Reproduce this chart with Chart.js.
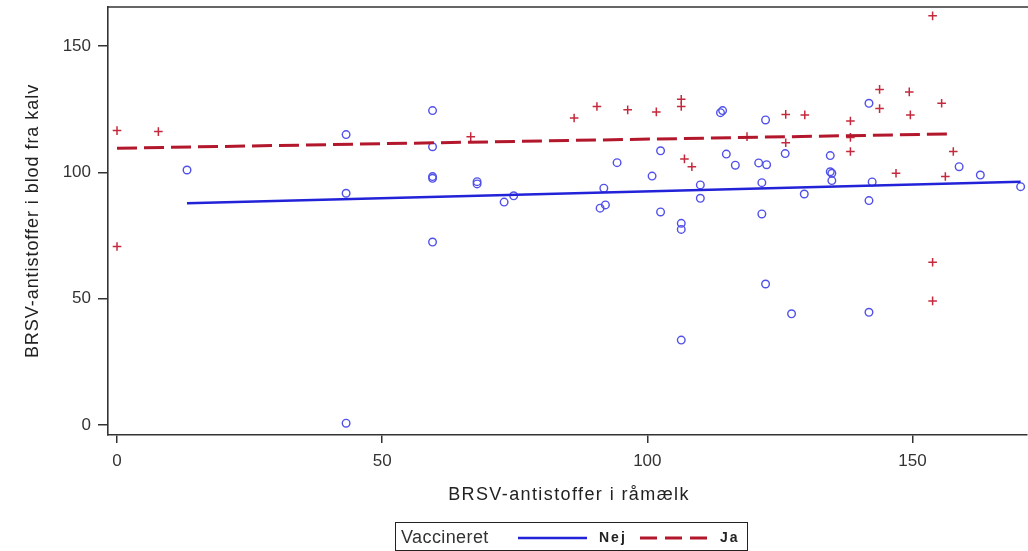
<!DOCTYPE html>
<html>
<head>
<meta charset="utf-8">
<script src="https://cdn.jsdelivr.net/npm/chart.js@4.4.1/dist/chart.umd.min.js"></script>
<style>
  html, body { margin: 0; padding: 0; background: #fff; overflow: hidden; }
  #wrap { width: 1028px; height: 551px; position: relative; }
</style>
</head>
<body>
<div id="wrap"><canvas id="c" width="1028" height="551"></canvas></div>
<script>
// ---- data ----
const nejX = [13.2,43.2,43.2,43.2,59.5,59.5,59.5,59.5,59.5,67.9,67.9,73.0,74.8,91.1,92.1,91.8,94.3,100.9,102.5,102.5,106.4,106.4,106.4,110.0,110.0,113.8,114.2,114.9,116.6,121.0,122.5,121.6,121.6,122.3,122.3,126.0,127.2,129.6,134.5,134.5,134.8,134.8,141.8,142.4,141.8,141.8,158.8,162.8,170.4];
const nejY = [100.9,114.9,91.7,0.7,124.4,110.1,98.3,97.6,72.4,96.3,95.4,88.2,90.7,85.8,87.1,93.7,103.8,98.5,108.5,84.3,79.8,77.4,33.6,95.0,89.7,123.6,124.4,107.2,102.8,103.7,103.0,95.9,83.5,120.7,55.8,107.4,44.0,91.4,106.6,100.2,99.6,96.7,127.3,96.2,88.8,44.6,102.2,98.9,94.3];
const jaX = [0,7.8,0,66.7,86.2,90.5,96.3,101.7,106.4,106.4,107.0,108.4,118.8,126.1,126.1,129.7,138.3,138.3,138.3,143.8,143.8,149.4,149.6,146.9,153.8,155.5,157.7,156.2,153.8,153.8];
const jaY = [116.5,116.1,70.6,114.1,121.5,126.0,124.7,123.9,128.9,126.0,105.3,102.2,114.1,122.9,111.7,122.7,120.3,113.8,108.2,132.8,125.2,131.8,122.7,99.6,161.9,127.3,108.2,98.3,64.4,49.1];
// fitted regression lines (end points)
const fitNejX = [13.2, 170.4];
const fitNejY = [87.7, 96.3];
const fitJaX = [0, 157.8];
const fitJaY = [109.5, 115.2];
// ticks / labels
const xTicks = [0, 50, 100, 150];
const yTicks = [0, 50, 100, 150];
const xTitle = 'BRSV-antistoffer i råmælk';
const yTitle = 'BRSV-antistoffer i blod fra kalv';
const legendTitle = 'Vaccineret';
const groupNames = ['Nej', 'Ja'];

const toPts = (xs, ys) => xs.map((x, i) => ({x: x, y: ys[i]}));

const C_BLUE_LINE = '#2222d8';
const C_BLUE_MK = '#5050ea';
const C_RED_LINE = '#b3172c';
const C_RED_MK = '#c42a3c';
const AXIS = '#333333';
const FONT = '"Liberation Sans", Arial, sans-serif';

const decor = {
  id: 'decor',
  afterDraw(chart) {
    const ctx = chart.ctx;
    const a = chart.chartArea;
    ctx.save();
    // frame top (right edge runs off the picture)
    ctx.strokeStyle = AXIS;
    ctx.lineWidth = 1.6;
    ctx.beginPath();
    ctx.moveTo(a.left, a.top);
    ctx.lineTo(1028, a.top);
    ctx.stroke();
    // axis titles
    ctx.fillStyle = '#222';
    ctx.font = '18px ' + FONT;
    ctx.textAlign = 'center';
    ctx.textBaseline = 'middle';
    ctx.letterSpacing = '1.4px';
    ctx.fillText(xTitle, 569, 495);
    ctx.save();
    ctx.letterSpacing = '0.95px';
    ctx.translate(33, 221);
    ctx.rotate(-Math.PI / 2);
    ctx.fillText(yTitle, 0, 0);
    ctx.restore();
    ctx.letterSpacing = '0px';
    // legend
    ctx.strokeStyle = '#222';
    ctx.lineWidth = 1;
    ctx.strokeRect(395.5, 522.5, 352, 28);
    ctx.textAlign = 'left';
    ctx.fillStyle = '#333';
    ctx.font = '18px ' + FONT;
    ctx.letterSpacing = '0.4px';
    ctx.fillText(legendTitle, 401, 538);
    ctx.lineWidth = 2.5;
    ctx.strokeStyle = C_BLUE_LINE;
    ctx.beginPath(); ctx.moveTo(518, 538); ctx.lineTo(587, 538); ctx.stroke();
    ctx.font = 'bold 14px ' + FONT;
    ctx.fillStyle = '#222';
    ctx.letterSpacing = '2px';
    ctx.fillText(groupNames[0], 599, 538);
    ctx.strokeStyle = C_RED_LINE;
    ctx.lineWidth = 3;
    ctx.setLineDash([17, 8]);
    ctx.beginPath(); ctx.moveTo(640, 538); ctx.lineTo(708, 538); ctx.stroke();
    ctx.setLineDash([]);
    ctx.fillText(groupNames[1], 720, 538);
    ctx.restore();
  }
};

new Chart(document.getElementById('c'), {
  type: 'scatter',
  data: {
    datasets: [
      { label: groupNames[1] + ' fit', type: 'line', data: toPts(fitJaX, fitJaY), borderColor: C_RED_LINE, borderWidth: 3, borderDash: [20, 7], pointRadius: 0, fill: false },
      { label: groupNames[0] + ' fit', type: 'line', data: toPts(fitNejX, fitNejY), borderColor: C_BLUE_LINE, borderWidth: 2.5, pointRadius: 0, fill: false },
      { label: groupNames[1], data: toPts(jaX, jaY), pointStyle: 'cross', pointRadius: 4.3, borderColor: C_RED_MK, borderWidth: 1.5, backgroundColor: C_RED_MK },
      { label: groupNames[0], data: toPts(nejX, nejY), pointStyle: 'circle', pointRadius: 3.8, borderColor: C_BLUE_MK, borderWidth: 1.4, backgroundColor: 'rgba(0,0,0,0)' }
    ]
  },
  options: {
    responsive: false,
    animation: false,
    devicePixelRatio: 1,
    layout: { autoPadding: false, padding: { top: 7, right: 1, left: 0, bottom: 0 } },
    plugins: { legend: { display: false }, tooltip: { enabled: false } },
    scales: {
      x: {
        type: 'linear', min: -1.7, max: 171.6,
        afterBuildTicks: s => { s.ticks = xTicks.map(v => ({value: v})); },
        afterFit: s => { s.height = 116; s.paddingLeft = 0; s.paddingRight = 0; },
        grid: { display: true, drawOnChartArea: false, drawTicks: true, tickLength: 8, color: AXIS, lineWidth: 1.5 },
        border: { display: true, color: AXIS, width: 1.6 },
        ticks: { color: '#333', font: { family: FONT, size: 17 }, padding: 8, maxRotation: 0 }
      },
      y: {
        type: 'linear', min: -3.96, max: 165.4,
        afterBuildTicks: s => { s.ticks = yTicks.map(v => ({value: v})); },
        afterFit: s => { s.width = 108; s.paddingTop = 0; s.paddingBottom = 0; },
        grid: { display: true, drawOnChartArea: false, drawTicks: true, tickLength: 10, color: AXIS, lineWidth: 1.5 },
        border: { display: true, color: AXIS, width: 1.6 },
        ticks: { color: '#333', font: { family: FONT, size: 17 }, padding: 7 }
      }
    }
  },
  plugins: [decor]
});
</script>
</body>
</html>
